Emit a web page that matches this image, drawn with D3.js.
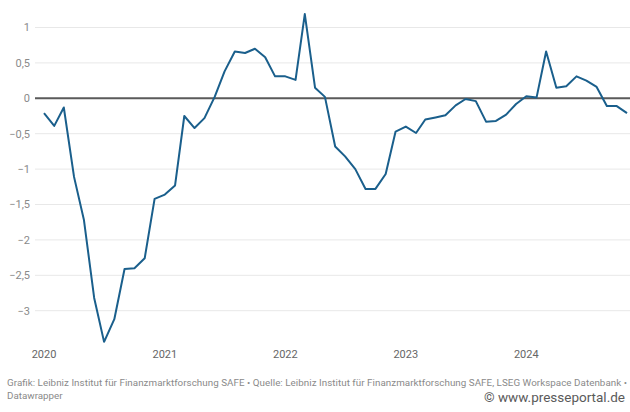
<!DOCTYPE html>
<html>
<head>
<meta charset="utf-8">
<script src="https://cdn.jsdelivr.net/npm/d3@7"></script>
<style>
  body { margin: 0; background: #fff; }
  svg { display: block; }
</style>
</head>
<body>
<script>
// monthly values, Jan 2020 .. Nov 2024
const months = d3.utcMonths(new Date(Date.UTC(2020, 0, 1)), new Date(Date.UTC(2024, 11, 1)));
const values = [
  -0.21, -0.39, -0.13, -1.11, -1.72, -2.82, -3.44, -3.12, -2.41, -2.40, -2.26, -1.42,
  -1.36, -1.23, -0.25, -0.42, -0.28, 0.02, 0.38, 0.66, 0.64, 0.70, 0.58, 0.31,
  0.31, 0.26, 1.19, 0.15, 0.02, -0.68, -0.82, -1.00, -1.28, -1.28, -1.07, -0.47,
  -0.40, -0.49, -0.30, -0.27, -0.24, -0.10, -0.01, -0.04, -0.33, -0.32, -0.23, -0.08,
  0.03, 0.01, 0.66, 0.15, 0.17, 0.31, 0.25, 0.16, -0.11, -0.11, -0.21
];
const yTicks = [1, 0.5, 0, -0.5, -1, -1.5, -2, -2.5, -3];
const yearTicks = [2020, 2021, 2022, 2023, 2024];
const footer1 = "Grafik: Leibniz Institut für Finanzmarktforschung SAFE • Quelle: Leibniz Institut für Finanzmarktforschung SAFE, LSEG Workspace Datenbank •";
const footer2 = "Datawrapper";
const credit = "© www.presseportal.de";

const data = months.map((d, i) => ({date: d, value: values[i]}));

const width = 630, height = 412;

const x = d3.scaleUtc()
    .domain([months[0], months[months.length - 1]])
    .range([44, 627]);

const y = d3.scaleLinear()
    .domain([0, 1])
    .range([98.3, 27.5]);

const fmt = v => String(v).replace(".", ",").replace("-", "\u2212");

const svg = d3.select("body").append("svg")
    .attr("width", width)
    .attr("height", height)
    .attr("font-family", "Roboto, sans-serif");

// gridlines + y labels
const grid = svg.append("g");
grid.selectAll("line")
  .data(yTicks.filter(d => d !== 0))
  .enter().append("line")
    .attr("x1", 35)
    .attr("x2", width)
    .attr("y1", d => y(d))
    .attr("y2", d => y(d))
    .attr("stroke", "#e8e8e8")
    .attr("stroke-width", 1);

grid.selectAll("text")
  .data(yTicks)
  .enter().append("text")
    .attr("x", 30)
    .attr("y", d => y(d))
    .attr("dy", "0.35em")
    .attr("text-anchor", "end")
    .attr("font-size", 11)
    .attr("fill", "#8a8a8a")
    .text(fmt);

// x labels
svg.append("g").selectAll("text")
  .data(yearTicks)
  .enter().append("text")
    .attr("x", d => x(new Date(Date.UTC(d, 0, 1))))
    .attr("y", 354)
    .attr("dy", "0.35em")
    .attr("text-anchor", "middle")
    .attr("font-size", 11)
    .attr("fill", "#666")
    .text(d => d);

// zero line
svg.append("line")
    .attr("x1", 35)
    .attr("x2", width)
    .attr("y1", y(0))
    .attr("y2", y(0))
    .attr("stroke", "#5a5a5a")
    .attr("stroke-width", 2);

// series
const line = d3.line()
    .x(d => x(d.date))
    .y(d => y(d.value));

svg.append("path")
    .datum(data)
    .attr("fill", "none")
    .attr("stroke", "#1a5f8c")
    .attr("stroke-width", 2)
    .attr("stroke-linejoin", "round")
    .attr("d", line);

// footer
svg.append("text")
    .attr("x", 7)
    .attr("y", 386)
    .attr("font-size", 9.8)
    .attr("textLength", 620)
    .attr("lengthAdjust", "spacing")
    .attr("fill", "#8a8a8a")
    .text(footer1);

svg.append("text")
    .attr("x", 7)
    .attr("y", 399)
    .attr("font-size", 9.8)
    .attr("fill", "#8a8a8a")
    .text(footer2);

svg.append("text")
    .attr("x", 625)
    .attr("y", 402)
    .attr("text-anchor", "end")
    .attr("font-size", 13.5)
    .attr("fill", "#5a5a5a")
    .text(credit);
</script>
</body>
</html>
